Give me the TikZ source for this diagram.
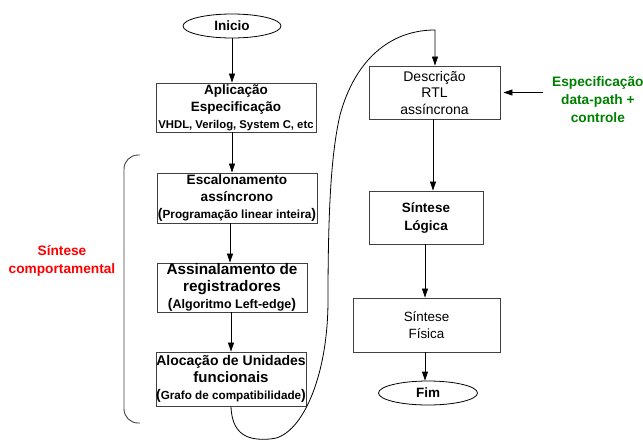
\documentclass[tikz,border=0pt]{standalone}
\usepackage{fontspec}
\setmainfont{Liberation Sans}
\usetikzlibrary{shapes.geometric,arrows.meta}
\definecolor{boxgray}{HTML}{404040}
\definecolor{specgreen}{HTML}{008000}
\newcommand{\fsz}[1]{\fontsize{#1}{17}\selectfont}
\begin{document}
\begin{tikzpicture}[x=1pt,y=-1pt,
  box/.style={draw=boxgray, line width=0.9pt, rectangle, inner sep=0pt, align=center,
    font=\fontsize{13.5}{17}\selectfont\bfseries},
  plainbox/.style={box, font=\mdseries},
  term/.style={draw=black, ellipse, line width=0.8pt, inner sep=0pt,
    minimum height=24, font=\fsz{13.5}\bfseries},
  flow/.style={draw=black, line width=0.8pt, -{Triangle[length=9pt,width=6pt]}},
  note/.style={align=center, inner sep=0pt, font=\fontsize{13.7}{18}\selectfont\bfseries}]
\useasboundingbox (0,0) rectangle (643,440);

% left column
\node[term, minimum width=98] (ini) at (232,26) {Inicio};
\node[box, minimum width=160, minimum height=49] (apl) at (236,107.5)
  {\fsz{13.5}Aplicação\\\fsz{13.5}Especificação\\\fsz{11.3}VHDL, Verilog, System C, etc};
\node[box, minimum width=160, minimum height=50] (esc) at (237,198)
  {\fsz{13.6}Escalonamento\\\fsz{13.6}assíncrono\\{\fsz{14}(}\fsz{11.8}Programação linear inteira{\fsz{14})}};
\node[box, minimum width=150, minimum height=49] (ass) at (232,287.5)
  {\fsz{15.3}Assinalamento de\\\fsz{15.3}registradores\\{\fsz{14}(}\fsz{12.5}Algoritmo Left-edge{\fsz{14})}};
\node[box, minimum width=150, minimum height=54] (aloc) at (231,379)
  {\fsz{14}Alocação de Unidades\\\fsz{15}funcionais\\{\fsz{14}(}\fsz{11.7}Grafo de compatibilidade{\fsz{14})}};

% right column
\node[plainbox, minimum width=131, minimum height=53, font=\fontsize{14}{16.5}\selectfont] (desc) at (434.5,92.5)
  {Descrição\\RTL\\assíncrona};
\node[box, minimum width=114, minimum height=53, font=\fontsize{13.5}{18}\selectfont\bfseries] (slog) at (426,217.5)
  {Síntese\\Lógica};
\node[plainbox, minimum width=147, minimum height=54, font=\fontsize{13.4}{17}\selectfont] (sfis) at (426.5,325)
  {Síntese\\Física};
\node[term, minimum width=99] (fim) at (428,393) {Fim};

% side labels
\node[note, text=specgreen, anchor=west] (spec) at (552,100) {Especificação\\data-path +\\controle};
\node[note, text=red] (comp) at (62,261) {Síntese\\comportamental};

% bracket grouping the behavioural-synthesis steps
\draw[boxgray, line width=0.9pt, rounded corners=14]
  (140,155) -- (124,155) -- (124,423) -- (140,423);

% connectors
\draw[flow] (ini.south) -- (ini.south |- apl.north);
\draw[flow] (ini.south |- apl.south) -- (ini.south |- esc.north);
\draw[flow] ([xshift=-2]ini.south |- esc.south) -- ([xshift=-2]ini.south |- ass.north);
\draw[flow] ([xshift=-1]ini.south |- ass.south) -- ([xshift=-1]ini.south |- aloc.north);

\coordinate (bend) at (435,30);
\draw[flow] (aloc.south) .. controls (232,440) and (255,440) .. (270,439)
  .. controls (300,438) and (328,380) .. (328,300)
  .. controls (328,200) and (332,150) .. (340,115)
  .. controls (355,60) and (390,30) .. (bend) -- (bend |- desc.north);

\draw[flow, shorten <=9pt, shorten >=3pt] (spec.west |- desc.east) -- (desc.east);
\draw[flow] ([xshift=-1.5]desc.south) -- ([xshift=-1.5]desc.south |- slog.north);
\draw[flow] ([xshift=-1]slog.south) -- ([xshift=-1]slog.south |- sfis.north);
\draw[flow] ([xshift=-1.5]sfis.south) -- ([xshift=-1.5]sfis.south |- fim.north);
\end{tikzpicture}
\end{document}
